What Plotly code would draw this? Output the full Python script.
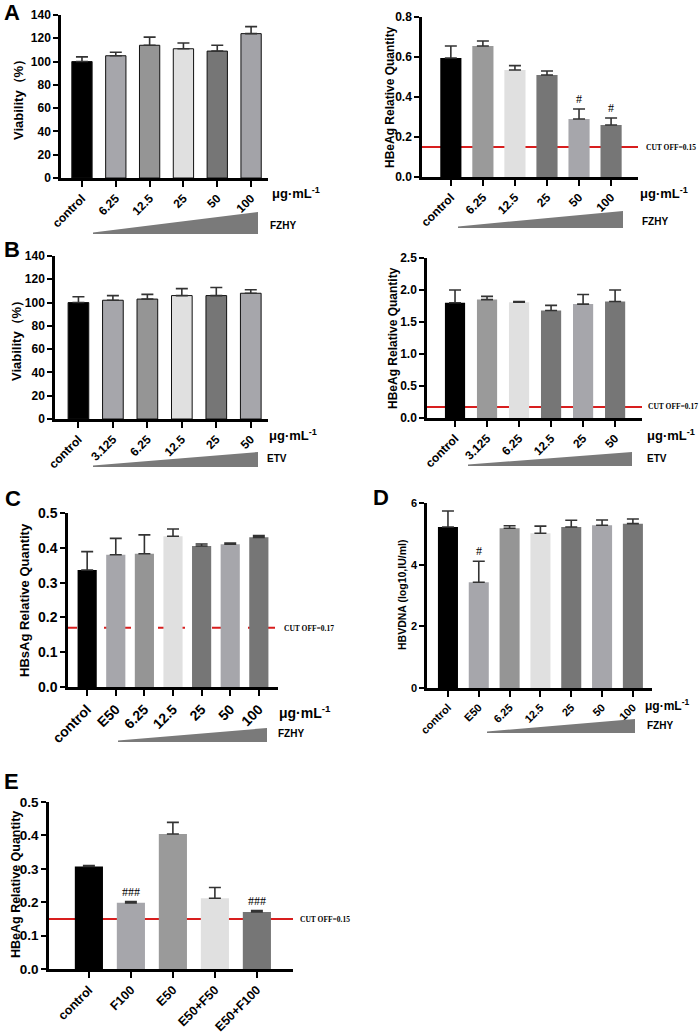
import plotly.graph_objects as go

W, H = 699, 1034

# ---- data ----
A_cats = ["control", "6.25", "12.5", "25", "50", "100"]
A_viab = [100, 105, 114, 111, 109, 124]
A_viab_err = [4, 3, 7, 5, 5, 6]
A_hbeag = [0.595, 0.655, 0.535, 0.51, 0.29, 0.26]
A_hbeag_err = [0.06, 0.025, 0.022, 0.02, 0.05, 0.035]

B_cats = ["control", "3.125", "6.25", "12.5", "25", "50"]
B_viab = [100, 102, 103, 106, 106, 108]
B_viab_err = [5, 4, 4, 6, 7, 3]
B_hbeag = [1.80, 1.85, 1.81, 1.68, 1.78, 1.82]
B_hbeag_err = [0.2, 0.05, 0.01, 0.08, 0.15, 0.18]

C_cats = ["control", "E50", "6.25", "12.5", "25", "50", "100"]
C_hbsag = [0.336, 0.38, 0.383, 0.433, 0.405, 0.41, 0.43]
C_hbsag_err = [0.053, 0.047, 0.054, 0.021, 0.006, 0.004, 0.005]

D_cats = ["control", "E50", "6.25", "12.5", "25", "50", "100"]
D_dna = [5.22, 3.43, 5.18, 5.02, 5.22, 5.28, 5.33]
D_dna_err = [0.52, 0.68, 0.08, 0.23, 0.22, 0.17, 0.15]

E_cats = ["control", "F100", "E50", "E50+F50", "E50+F100"]
E_hbeag = [0.307, 0.198, 0.404, 0.212, 0.171]
E_hbeag_err = [0.003, 0.004, 0.035, 0.032, 0.004]

# significance marks: (panel, category index, value, label)
sig_marks = [(2, 4, 0.345, "#"), (2, 5, 0.30, "#"), (6, 1, 4.15, "#"),
             (7, 1, 0.203, "###"), (7, 4, 0.177, "###")]

BLK, LG, MG, PL, DG = "#000000", "#a6a6ab", "#959595", "#e0e0e0", "#767676"
cols_A1 = [BLK, LG, MG, PL, DG, "#a3a3a8"]
cols_A2 = [BLK, "#9a9a9a", PL, DG, LG, DG]
cols_B1 = [BLK, LG, MG, PL, DG, LG]
cols_B2 = [BLK, "#9a9a9a", PL, DG, LG, DG]
cols_CD = [BLK, LG, MG, PL, DG, LG, DG]
cols_E = [BLK, LG, "#9a9a9a", PL, DG]

FONT = "Liberation Sans"
SERIF = "Liberation Serif"


def px(x):
    return x / W


def py(y):
    return 1 - y / H


fig = go.Figure()
ann = []
shapes = []


def panel(i, cats, vals, errs, colors, x0, x1, y0, y1, xr, yr, dtick,
          fmt, width, tsize, outline=False, cutoff=None, dash="solid",
          xsize=None):
    xa, ya = f"x{i}", f"y{i}"
    fig.add_trace(go.Bar(
        x=cats, y=vals, xaxis=xa, yaxis=ya, width=width,
        marker=dict(color=colors,
                    line=dict(color="#111", width=1 if outline else 0)),
        error_y=dict(type="data", array=errs, arrayminus=[0] * len(errs),
                     symmetric=False, color="#333333", thickness=1.6,
                     width=6),
        showlegend=False,
    ))
    common = dict(showline=True, linecolor="black", linewidth=2.5,
                  ticks="outside", tickwidth=2, tickcolor="black",
                  showgrid=False, zeroline=False, automargin=False)
    fig.layout[f"xaxis{i}"] = dict(
        domain=[px(x0), px(x1)], anchor=ya, range=xr, tickangle=-45,
        ticklen=6, tickfont=dict(family=FONT, size=xsize or tsize,
                                 weight="bold", color="black"), **common)
    fig.layout[f"yaxis{i}"] = dict(
        domain=[py(y1), py(y0)], anchor=xa, range=yr, dtick=dtick,
        tickformat=fmt, ticklen=5,
        tickfont=dict(family=FONT, size=tsize, weight="bold", color="black"),
        **common)
    if cutoff is not None:
        shapes.append(dict(type="line", xref=f"{xa} domain", yref=ya,
                           x0=0, x1=1, y0=cutoff, y1=cutoff, layer="below",
                           line=dict(color="#d81e1e", width=2, dash=dash)))


def text(x, y, s, size, family=FONT, bold=True, angle=0, xanchor="left",
         color="black"):
    ann.append(dict(xref="paper", yref="paper", x=px(x), y=py(y), text=s,
                    showarrow=False, xanchor=xanchor, yanchor="middle",
                    textangle=angle,
                    font=dict(family=family, size=size, color=color,
                              weight="bold" if bold else "normal")))


def wedge(xl, xr_, ytop, ybot):
    shapes.append(dict(type="path", xref="paper", yref="paper",
                       path=f"M{px(xl)},{py(ybot - 1.5)} L{px(xr_)},{py(ytop)} "
                            f"L{px(xr_)},{py(ybot)} L{px(xl)},{py(ybot)} Z",
                       fillcolor="#7a7a7a", line=dict(width=0)))


# A left
panel(1, A_cats, A_viab, A_viab_err, cols_A1, 61, 268, 15, 178,
      [-0.62, 5.5], [0, 140], 20, "d", 0.6, 12, outline=True)
# A right
panel(2, A_cats, A_hbeag, A_hbeag_err, cols_A2, 422, 638, 17, 177,
      [-0.9, 5.84], [0, 0.8], 0.2, ".1f", 0.66, 12, cutoff=0.15)
# B left
panel(3, B_cats, B_viab, B_viab_err, cols_B1, 55, 268, 256, 419,
      [-0.68, 5.5], [0, 140], 20, "d", 0.6, 12, outline=True)
# B right
panel(4, B_cats, B_hbeag, B_hbeag_err, cols_B2, 427, 642, 258, 418,
      [-0.875, 5.84], [0, 2.5], 0.5, ".1f", 0.63, 12, cutoff=0.17)
# C
panel(5, C_cats, C_hbsag, C_hbsag_err, cols_CD, 68, 278, 513, 687,
      [-0.67, 6.67], [0, 0.5], 0.1, ".1f", 0.67, 14, cutoff=0.17,
      dash="dash")
# D
panel(6, D_cats, D_dna, D_dna_err, cols_CD, 427, 652, 503, 688,
      [-0.68, 6.62], [0, 6], 2, "d", 0.65, 11)
# E
panel(7, E_cats, E_hbeag, E_hbeag_err, cols_E, 49, 293, 802, 969,
      [-0.95, 4.86], [0, 0.5], 0.1, ".1f", 0.67, 13.5, cutoff=0.15,
      xsize=12.5)

for p, idx, v, s in sig_marks:
    ann.append(dict(xref=f"x{p}", yref=f"y{p}", x=idx, y=v, text=s,
                    showarrow=False, yanchor="bottom",
                    font=dict(family=SERIF, size=12, color="black")))

# y titles
text(18, 97, "Viability（%）", 13, angle=-90, xanchor="center")
text(390, 97, "HBeAg Relative Quantity", 12, angle=-90, xanchor="center")
text(16, 338, "Viability（%）", 13, angle=-90, xanchor="center")
text(393, 338, "HBeAg Relative Quantity", 12, angle=-90, xanchor="center")
text(24, 600, "HBsAg Relative Quantity", 13, angle=-90, xanchor="center")
text(402, 595, "HBVDNA (log10,IU/ml)", 10.5, angle=-90, xanchor="center")
text(16, 885, "HBeAg Relative Quantity", 12.5, angle=-90, xanchor="center")

# cut-off labels
text(644, 147, "CUT OFF=0.15", 7.5, family=SERIF)
text(646, 407, "CUT OFF=0.17", 7.5, family=SERIF)
text(282, 628, "CUT OFF=0.17", 7.5, family=SERIF)
text(298, 919, "CUT OFF=0.15", 7.5, family=SERIF)

# units, wedges, drug labels
unit = "μg·mL<sup>-1</sup>"
text(270, 193, unit, 13)
text(638, 193, unit, 13)
text(267, 435, unit, 13)
text(645, 435, unit, 13)
text(277, 712, unit, 14)
text(643, 705, unit, 12)

wedge(93, 258, 212, 234)
wedge(458, 623, 211, 228)
wedge(93, 258, 452, 467)
wedge(468, 632, 452, 466)
wedge(118, 267, 728, 742)
wedge(487, 635, 719, 733)

text(268, 225, "FZHY", 10)
text(640, 221, "FZHY", 10)
text(265, 458, "ETV", 10)
text(645, 458, "ETV", 10)
text(276, 733, "FZHY", 10)
text(645, 725, "FZHY", 10)

# panel letters
for lx, ly, s in [(2, 12, "A"), (2, 250, "B"), (3, 499, "C"),
                  (371, 497, "D"), (2, 781, "E")]:
    text(lx, ly, s, 22)

fig.update_layout(width=W, height=H, margin=dict(l=0, r=0, t=0, b=0),
                  paper_bgcolor="white", plot_bgcolor="white",
                  annotations=ann, shapes=shapes, bargap=0.3)
fig.write_html("out.html", config={"displayModeBar": False},
               post_script="document.body.style.margin='0';")
